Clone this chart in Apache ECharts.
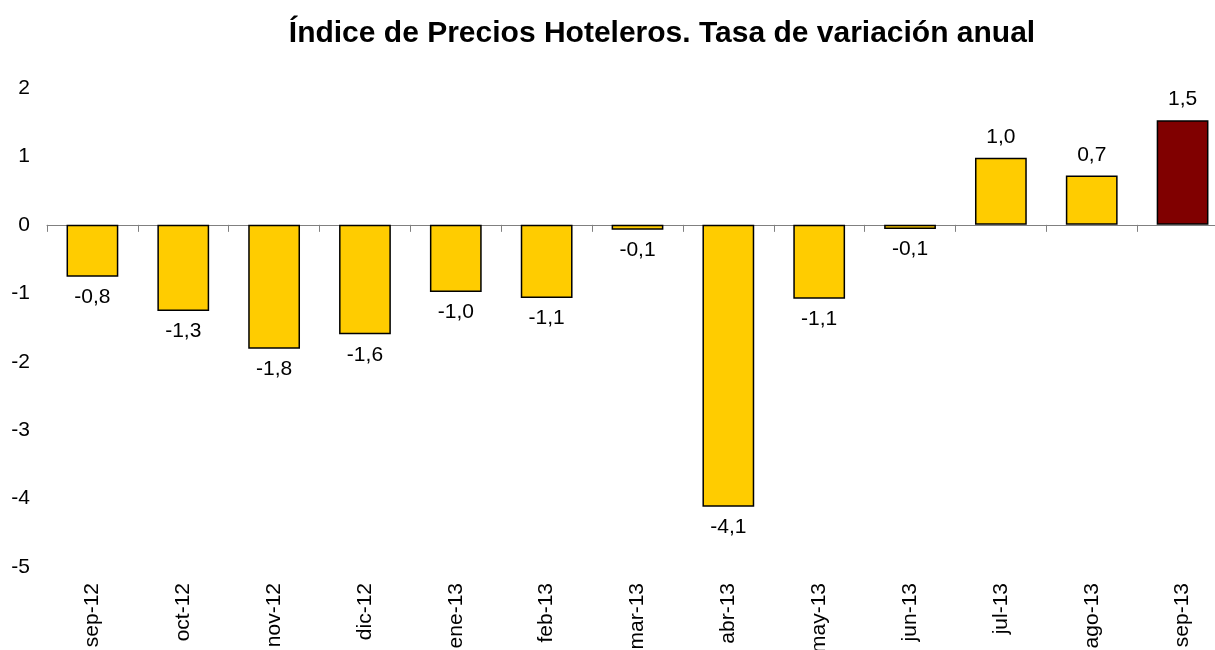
<!doctype html>
<html>
<head>
<meta charset="utf-8">
<title>Índice de Precios Hoteleros</title>
<style>
  html, body { margin: 0; padding: 0; background: #fff; }
  #chart { width: 1215px; height: 650px; }
</style>
</head>
<body>
<div id="chart"></div>
<script src="https://cdn.jsdelivr.net/npm/echarts@6/dist/echarts.min.js"></script>
<script>
// datos
var meses = ['sep-12', 'oct-12', 'nov-12', 'dic-12', 'ene-13', 'feb-13', 'mar-13',
             'abr-13', 'may-13', 'jun-13', 'jul-13', 'ago-13', 'sep-13'];
var tasas = [-0.76, -1.26, -1.81, -1.6, -0.98, -1.07, -0.07, -4.12, -1.08, -0.06, 0.98, 0.72, 1.53];
var yTicks = [-5, -4, -3, -2, -1, 0, 1, 2];

var amarillo = '#FFCC00';
var granate = '#800000';

var myChart = echarts.init(document.getElementById('chart'));

var barData = tasas.map(function (v, i) {
    return {
        value: v,
        itemStyle: { color: i === tasas.length - 1 ? granate : amarillo },
        label: { position: v >= 0 ? 'top' : 'bottom' }
    };
});

var option = {
    animation: false,
    title: {
        text: 'Índice de Precios Hoteleros. Tasa de variación anual',
        left: 657,
        textAlign: 'center',
        top: 14,
        textStyle: { fontFamily: 'Liberation Sans', fontWeight: 'bold', fontSize: 30, color: '#000' }
    },
    grid: { left: 47, top: 88, width: 1181, height: 479, containLabel: false, outerBoundsMode: 'none' },
    xAxis: [{
        type: 'category',
        data: meses,
        axisLine: { onZero: true, lineStyle: { color: '#808080', width: 1 } },
        axisTick: { show: true, inside: false, length: 7, lineStyle: { color: '#808080' } },
        axisLabel: { show: false },
        splitLine: { show: false }
    }, {
        type: 'category',
        data: meses,
        position: 'bottom',
        axisLine: { show: false, onZero: false },
        axisTick: { show: false },
        axisLabel: {
            rotate: 90, margin: 16, fontSize: 21, color: '#000',
            fontFamily: 'Liberation Sans'
        }
    }],
    yAxis: {
        type: 'value',
        min: yTicks[0],
        max: yTicks[yTicks.length - 1],
        interval: 1,
        axisLine: { show: false },
        axisTick: { show: false },
        splitLine: { show: false },
        axisLabel: { fontSize: 21, color: '#000', fontFamily: 'Liberation Sans', margin: 17 }
    },
    series: [{
        type: 'bar',
        xAxisIndex: 0,
        data: barData,
        barCategoryGap: '43%',
        itemStyle: { borderColor: '#000', borderWidth: 1.5 },
        label: {
            show: true,
            distance: 10,
            fontSize: 21,
            color: '#000',
            fontFamily: 'Liberation Sans',
            formatter: function (p) {
                return p.value.toFixed(1).replace('.', ',');
            }
        }
    }]
};
myChart.setOption(option);
</script>
</body>
</html>
